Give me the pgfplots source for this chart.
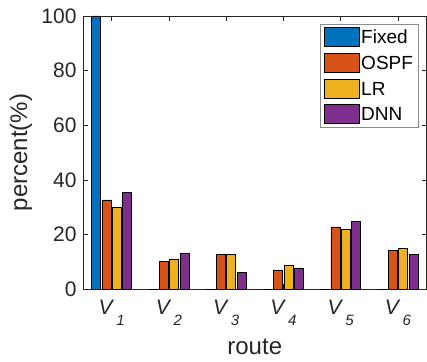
\documentclass[border=0pt]{standalone}
\usepackage{fontspec}
\setmainfont{Liberation Sans}
\usepackage{pgfplots}
\pgfplotsset{compat=1.18}
\definecolor{cFixed}{rgb}{0,0.447,0.741}
\definecolor{cOSPF}{rgb}{0.85,0.325,0.098}
\definecolor{cLR}{rgb}{0.929,0.694,0.125}
\definecolor{cDNN}{rgb}{0.494,0.184,0.556}
\definecolor{axc}{rgb}{0.15,0.15,0.15}
\newcommand{\V}[1]{\textit{V}\hspace{2pt}\raisebox{-11pt}{\fontsize{15}{15}\selectfont\textit{#1}}}
\begin{document}
\begin{tikzpicture}
\pgfplotsset{mybar/.style={ybar, bar width=9pt, draw=black, line width=0.7pt,
  legend image code/.code={\draw[##1, line width=0.7pt] (0pt,-9.5pt) rectangle (35pt,9.5pt);}}}
\begin{axis}[name=ax,
  scale only axis, width=343.5pt, height=273.3pt,
  xmin=0.5, xmax=6.5, ymin=0, ymax=100,
  ytick={0,20,40,60,80,100},
  xtick={1,2,3,4,5,6},
  xticklabels={\V{1},\V{2},\V{3},\V{4},\V{5},\V{6}},
  /pgf/number format/assume math mode=true,
  tick label style={font=\fontsize{21}{24}\selectfont, text=axc},
  xticklabel style={yshift=-7pt},
  yticklabel style={xshift=-3pt},
  axis line style={axc, line width=0.6pt},
  tick style={axc, line width=0.6pt},
  major tick length=5pt,
  xlabel={route}, ylabel={percent(\%)},
  every axis x label/.style={at={(axis description cs:0.5,-0.238)}, anchor=base, inner sep=0pt, font=\fontsize{24}{28}\selectfont, text=axc},
  every axis y label/.style={at={(axis description cs:-0.163,0.5)}, anchor=base, inner sep=0pt, rotate=90, font=\fontsize{24}{28}\selectfont, text=axc},
  legend style={at={(0.976,0.971)}, anchor=north east, draw=black!45, line width=0.6pt,
    fill=white, font=\fontsize{19}{19}\selectfont, text=black,
    inner xsep=3pt, inner ysep=3pt, row sep=6pt,
    nodes={inner xsep=2pt, inner ysep=1pt, text height=13.5pt, text depth=0pt}},
  legend cell align=left,
]
\addplot[mybar, fill=cFixed, bar shift=-15.6pt] coordinates {(1,100) (2,0) (3,0) (4,0) (5,0) (6,0)};
\addplot[mybar, fill=cOSPF, bar shift=-5.2pt] coordinates {(1,32.7) (2,10.1) (3,12.9) (4,7.1) (5,22.8) (6,14.3)};
\addplot[mybar, fill=cLR, bar shift=5.2pt] coordinates {(1,30.1) (2,11.1) (3,12.9) (4,8.9) (5,22.1) (6,15.0)};
\addplot[mybar, fill=cDNN, bar shift=15.6pt] coordinates {(1,35.3) (2,13.2) (3,6.2) (4,7.8) (5,24.7) (6,12.9)};
\legend{Fixed,OSPF,LR,DNN}
\end{axis}
\pgfresetboundingbox
\path[use as bounding box] ([xshift=-83pt,yshift=-71.7pt]ax.south west) rectangle ([xshift=0.5pt,yshift=16pt]ax.north east);
\end{tikzpicture}
\end{document}
